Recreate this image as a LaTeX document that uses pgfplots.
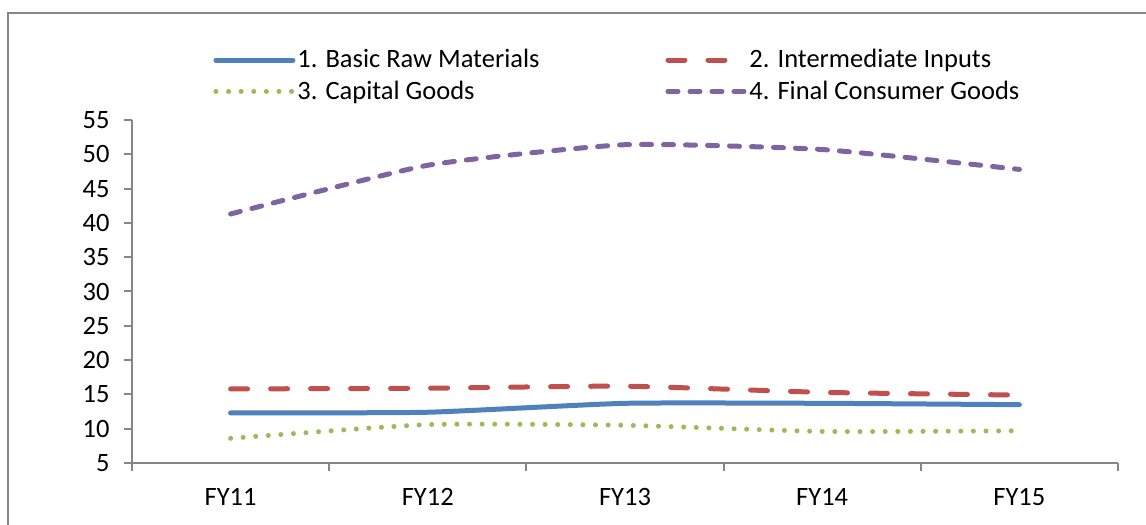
\documentclass[border=0pt]{standalone}
\usepackage{pgfplots}
\pgfplotsset{compat=1.18}
\usepackage{fontspec}
\setmainfont{Carlito}

\definecolor{xlblue}{RGB}{79,129,189}
\definecolor{xlred}{RGB}{192,80,77}
\definecolor{xlgreen}{RGB}{155,187,89}
\definecolor{xlpurple}{RGB}{128,100,162}
\definecolor{axgray}{RGB}{134,134,134}

\begin{document}
\begin{tikzpicture}
% 1 px of the reference = 0.5bp, origin at the axis corner
\useasboundingbox (-66bp,-31bp) rectangle (507bp,231.5bp);
\draw[axgray, line width=1bp] (510bp,225bp) -- (-62bp,225bp) -- (-62bp,-40bp);

\begin{axis}[
    at={(0,0)}, anchor=south west,
    scale only axis,
    width=493bp, height=171.5bp,
    xmin=0.5, xmax=5.5,
    ymin=5, ymax=55,
    ytick={5,10,...,55},
    xtick={1,2,3,4,5},
    xticklabels={FY11,FY12,FY13,FY14,FY15},
    minor xtick={0.5,1.5,...,5.5},
    axis x line*=bottom,
    axis y line*=left,
    axis line style={axgray, line width=1bp, -},
    tick align=outside,
    major tick length=4bp,
    minor tick length=4bp,
    x tick style={draw=none},
    minor x tick style={draw=axgray, line width=1bp},
    y tick style={axgray, line width=1bp},
    tick label style={font=\fontsize{13.3}{15}\selectfont, text=black},
    /pgf/number format/assume math mode=true,
    xticklabel style={anchor=north, inner sep=0pt, yshift=-8.5bp},
    yticklabel style={anchor=east, inner sep=0pt, xshift=-7bp},
    legend columns=2,
    legend style={at={(axis description cs:0.0822,1.1290)}, anchor=west,
        draw=none, fill=none, inner sep=0pt,
        font=\fontsize{13.3}{15}\selectfont,
        nodes={inner sep=0pt, anchor=west},
        row sep=5bp,
        /tikz/every odd column/.append style={column sep=1bp},
        /tikz/every even column/.append style={column sep=63bp}},
    legend cell align=left,
    legend image code/.code={\draw[#1] (1.25bp,0bp) -- (39.75bp,0bp);},
    every axis plot/.append style={smooth, tension=0.3, line width=2.5bp, line cap=round},
]
\addplot[xlblue] coordinates {
    (1,12.3) (2,12.4) (3,13.7) (4,13.7) (5,13.5)};
\addlegendentry{1. Basic Raw Materials}
\addplot[xlred, dash pattern=on 8.5bp off 11.5bp] coordinates {
    (1,15.8) (2,15.9) (3,16.2) (4,15.3) (5,14.9)};
\addlegendentry{2. Intermediate Inputs}
\addplot[xlgreen, dash pattern=on 0bp off 6.3bp] coordinates {
    (1,8.6) (2,10.6) (3,10.5) (4,9.6) (5,9.7)};
\addlegendentry{3. Capital Goods}
\addplot[xlpurple, dash pattern=on 5bp off 6bp] coordinates {
    (1,41.3) (2,48.4) (3,51.4) (4,50.7) (5,47.8)};
\addlegendentry{4. Final Consumer Goods}
\end{axis}
\end{tikzpicture}
\end{document}
